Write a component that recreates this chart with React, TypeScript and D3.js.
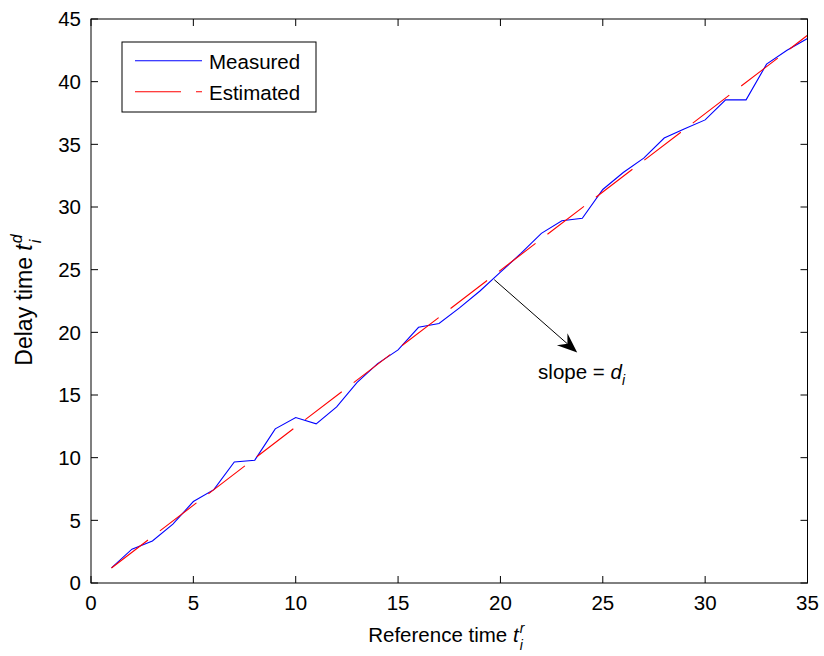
import React from "react";
import * as d3 from "d3";

// ---- data ----
const refTime: number[] = [
  1, 2, 3, 4, 5, 6, 7, 8, 9, 10, 11, 12, 13, 14, 15, 16, 17, 18, 19, 20, 21,
  22, 23, 24, 25, 26, 27, 28, 29, 30, 31, 32, 33, 34, 35,
];
const measured: number[] = [
  1.2, 2.7, 3.35, 4.7, 6.5, 7.45, 9.66, 9.8, 12.3, 13.2, 12.7, 14.05, 16.0,
  17.5, 18.6, 20.4, 20.7, 21.95, 23.3, 24.8, 26.3, 27.9, 28.9, 29.1, 31.4,
  32.75, 33.9, 35.5, 36.25, 36.95, 38.55, 38.55, 41.4, 42.5, 43.45,
];
const estimatedX: number[] = [1, 35];
const estimatedY: number[] = [1.2, 43.7];
const xTicks: number[] = [0, 5, 10, 15, 20, 25, 30, 35];
const yTicks: number[] = [0, 5, 10, 15, 20, 25, 30, 35, 40, 45];
const legendLabels: string[] = ["Measured", "Estimated"];
// arrow annotation (data coords): from -> to, and label position
const arrowFrom: [number, number] = [19.7, 24.2];
const arrowTo: [number, number] = [23.75, 18.4];
const slopeLabelAt: [number, number] = [21.84, 16.3];

const W = 824;
const H = 656;
const M = { left: 91, right: 807.5, top: 19, bottom: 583 };
const FONT = "'Liberation Sans', Arial, Helvetica, sans-serif";
const FS = 20.5;

export default function App() {
  const x = d3.scaleLinear().domain([0, 35]).range([M.left, M.right]);
  const y = d3.scaleLinear().domain([0, 45]).range([M.bottom, M.top]);

  const line = d3
    .line<[number, number]>()
    .x((d) => x(d[0]))
    .y((d) => y(d[1]));

  const measPts = refTime.map((t, i) => [t, measured[i]] as [number, number]);
  const estPts = estimatedX.map((t, i) => [t, estimatedY[i]] as [number, number]);

  const tickLen = 7;

  // arrow head geometry
  const ax0 = x(arrowFrom[0]);
  const ay0 = y(arrowFrom[1]);
  const ax1 = x(arrowTo[0]);
  const ay1 = y(arrowTo[1]);
  const dx = ax1 - ax0;
  const dy = ay1 - ay0;
  const len = Math.hypot(dx, dy);
  const ux = dx / len;
  const uy = dy / len;
  const px = -uy;
  const py = ux;
  const headL = 20;
  const headW = 8;
  const notch = 13;
  const b1 = [ax1 - ux * headL + px * headW, ay1 - uy * headL + py * headW];
  const b2 = [ax1 - ux * headL - px * headW, ay1 - uy * headL - py * headW];
  const nt = [ax1 - ux * notch, ay1 - uy * notch];

  const legX = 122;
  const legY = 42;
  const legW = 194;
  const legH = 70;

  return (
    <svg
      width={W}
      height={H}
      viewBox={`0 0 ${W} ${H}`}
      style={{ position: "absolute", left: 0, top: 0, background: "#fff" }}
      fontFamily={FONT}
    >
      <rect x={0} y={0} width={W} height={H} fill="#fff" />

      {/* data lines */}
      <path
        d={line(measPts) || ""}
        fill="none"
        stroke="#0000ff"
        strokeWidth={1.1}
      />
      <path
        d={line(estPts) || ""}
        fill="none"
        stroke="#ff0000"
        strokeWidth={1.1}
        strokeDasharray="46,15"
      />

      {/* axes box */}
      <rect
        x={M.left}
        y={M.top}
        width={M.right - M.left}
        height={M.bottom - M.top}
        fill="none"
        stroke="#000"
        strokeWidth={1}
      />

      {/* x ticks */}
      {xTicks.map((t) => (
        <g key={"xt" + t}>
          <line x1={x(t)} x2={x(t)} y1={M.bottom} y2={M.bottom - tickLen} stroke="#000" />
          <line x1={x(t)} x2={x(t)} y1={M.top} y2={M.top + tickLen} stroke="#000" />
          <text x={x(t)} y={610} textAnchor="middle" fontSize={FS} fill="#000">
            {t}
          </text>
        </g>
      ))}

      {/* y ticks */}
      {yTicks.map((t) => (
        <g key={"yt" + t}>
          <line x1={M.left} x2={M.left + tickLen} y1={y(t)} y2={y(t)} stroke="#000" />
          <line x1={M.right} x2={M.right - tickLen} y1={y(t)} y2={y(t)} stroke="#000" />
          <text x={81} y={y(t) + 7.3} textAnchor="end" fontSize={FS} fill="#000">
            {t}
          </text>
        </g>
      ))}

      {/* x label */}
      <text x={(M.left + M.right) / 2 - 3} y={642} textAnchor="middle" fontSize={FS} fill="#000">
        Reference time{" "}
        <tspan fontStyle="italic">t</tspan>
        <tspan fontStyle="italic" fontSize={14} dy={-9} dx={1}>r</tspan>
        <tspan fontStyle="italic" fontSize={14} dy={17} dx={-4.5}>i</tspan>
      </text>

      {/* y label */}
      <text
        transform={`translate(32, ${(M.top + M.bottom) / 2 - 1}) rotate(-90)`}
        textAnchor="middle"
        fontSize={23}
        fill="#000"
      >
        Delay time{" "}
        <tspan fontStyle="italic">t</tspan>
        <tspan fontStyle="italic" fontSize={16} dy={-10} dx={1}>d</tspan>
        <tspan fontStyle="italic" fontSize={16} dy={19} dx={-9}>i</tspan>
      </text>

      {/* legend */}
      <rect x={legX} y={legY} width={legW} height={legH} fill="#fff" stroke="#000" strokeWidth={1} />
      <line x1={135} x2={202} y1={60.7} y2={60.7} stroke="#0000ff" strokeWidth={1.1} />
      <line
        x1={135}
        x2={202}
        y1={91.7}
        y2={91.7}
        stroke="#ff0000"
        strokeWidth={1.1}
        strokeDasharray="46,15"
      />
      <text x={209} y={69} fontSize={FS} fill="#000">
        {legendLabels[0]}
      </text>
      <text x={209} y={100} fontSize={FS} fill="#000">
        {legendLabels[1]}
      </text>

      {/* annotation arrow */}
      <line x1={ax0} y1={ay0} x2={nt[0]} y2={nt[1]} stroke="#000" strokeWidth={1} />
      <polygon
        points={`${ax1},${ay1} ${b1[0]},${b1[1]} ${nt[0]},${nt[1]} ${b2[0]},${b2[1]}`}
        fill="#000"
      />
      <text x={x(slopeLabelAt[0])} y={y(slopeLabelAt[1])} fontSize={FS} fill="#000">
        slope ={" "}
        <tspan fontStyle="italic">d</tspan>
        <tspan fontStyle="italic" fontSize={14} dy={6}>i</tspan>
      </text>
    </svg>
  );
}
